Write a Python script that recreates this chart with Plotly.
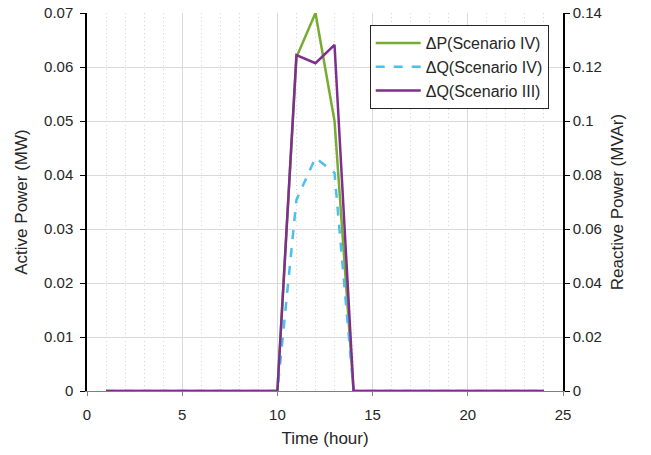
import plotly.graph_objects as go

hours = list(range(1, 25))
dP_scen4 = [0]*10 + [0.0618, 0.070, 0.0500, 0] + [0]*10
dQ_scen4 = [0]*10 + [0.0708, 0.0864, 0.0808, 0] + [0]*10
dQ_scen3 = [0]*10 + [0.1244, 0.1214, 0.1282, 0] + [0]*10

x_ticks = [0, 5, 10, 15, 20, 25]
y1_ticks = [0, 0.01, 0.02, 0.03, 0.04, 0.05, 0.06, 0.07]
y1_text = ["0", "0.01", "0.02", "0.03", "0.04", "0.05", "0.06", "0.07"]
y2_ticks = [0, 0.02, 0.04, 0.06, 0.08, 0.1, 0.12, 0.14]
y2_text = ["0", "0.02", "0.04", "0.06", "0.08", "0.1", "0.12", "0.14"]

FONT = "Liberation Sans, Arial, sans-serif"
TXT = "#262626"

fig = go.Figure()
fig.add_trace(go.Scatter(x=hours, y=dP_scen4, mode="lines", name="ΔP(Scenario IV)",
                         line=dict(color="#77AC30", width=2.5), yaxis="y"))
fig.add_trace(go.Scatter(x=hours, y=dQ_scen4, mode="lines", name="ΔQ(Scenario IV)",
                         line=dict(color="#4DBEEE", width=2.5, dash="dash"), yaxis="y2"))
fig.add_trace(go.Scatter(x=hours, y=dQ_scen3, mode="lines", name="ΔQ(Scenario III)",
                         line=dict(color="#7E2F8E", width=2.5), yaxis="y2"))

fig.update_layout(
    width=651, height=455,
    margin=dict(l=87, r=88, t=13, b=64, autoexpand=False),
    paper_bgcolor="white", plot_bgcolor="white",
    font=dict(family=FONT, size=15, color=TXT),
    xaxis=dict(range=[0, 25], tickvals=x_ticks, ticks="outside", ticklen=4,
               tickcolor="#808080", showline=True, linecolor="#808080", linewidth=1,
               showgrid=True, gridcolor="#d9d9d9", gridwidth=1, zeroline=False,
               ticklabelstandoff=6, automargin=False,
               minor=dict(dtick=1, showgrid=True, gridcolor="#d4d4d4", griddash="1px,3px",
                          ticks=""),
               title=dict(text="Time (hour)", font=dict(size=17), standoff=10),
               tickfont=dict(size=15)),
    yaxis=dict(range=[0, 0.07], tickvals=y1_ticks, ticktext=y1_text,
               ticks="outside", ticklen=5, tickcolor="#000000",
               showline=True, linecolor="#000000", linewidth=1.5,
               showgrid=True, gridcolor="#d9d9d9", zeroline=False,
               ticklabelstandoff=4, automargin=False,
               title=dict(text="Active Power (MW)", font=dict(size=17), standoff=12),
               tickfont=dict(size=15)),
    yaxis2=dict(range=[0, 0.14], tickvals=y2_ticks, ticktext=y2_text,
                overlaying="y", side="right", ticks="outside", ticklen=5,
                tickcolor="#000000", showline=True, linecolor="#000000", linewidth=1.5,
                showgrid=False, zeroline=False, automargin=False,
                title=dict(text="Reactive Power (MVAr)", font=dict(size=17), standoff=10),
                tickfont=dict(size=15)),
    legend=dict(x=0.97, y=0.968, xanchor="right", yanchor="top",
                bgcolor="white", bordercolor="#262626", borderwidth=1,
                font=dict(size=16, color=TXT), itemwidth=45,
                tracegroupgap=0),
    showlegend=True,
)

fig.write_html("out.html")
